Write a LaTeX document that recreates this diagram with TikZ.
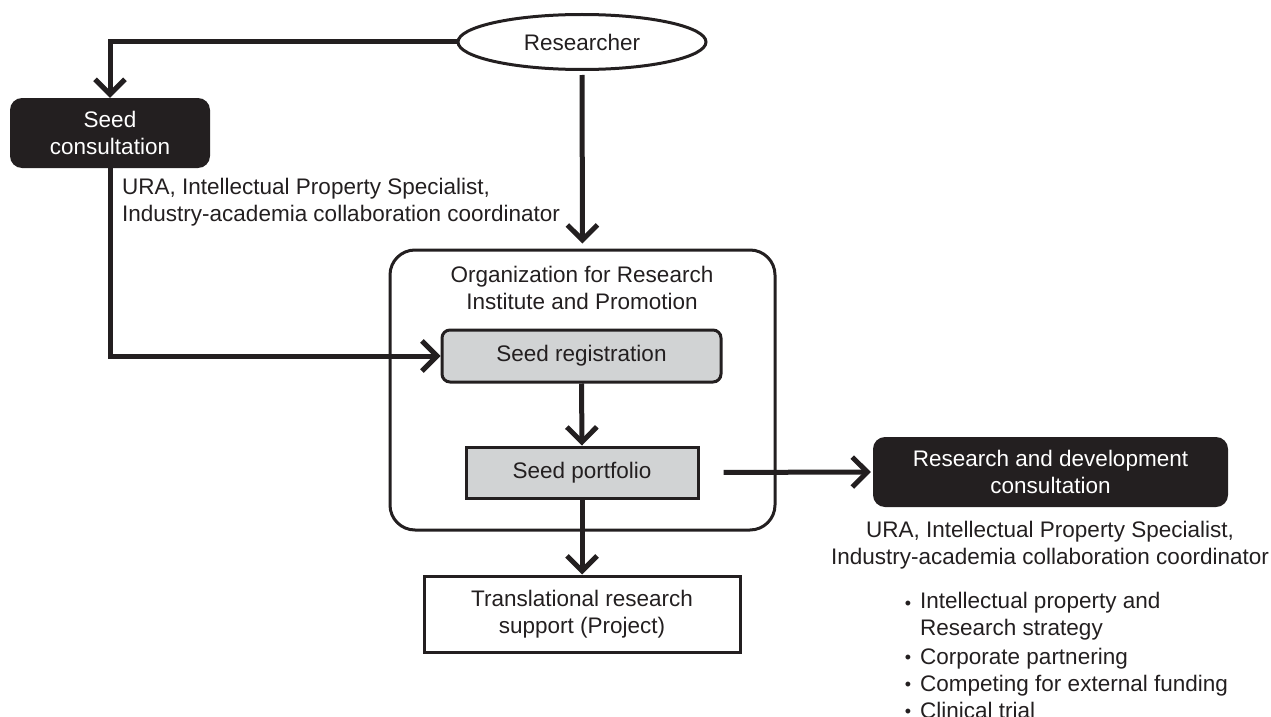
\documentclass[tikz,border=0pt]{standalone}
\usepackage{fontspec}
\setmainfont{Liberation Sans}
\usetikzlibrary{arrows.meta,shapes.geometric}
\definecolor{ink}{HTML}{231F20}
\definecolor{boxgray}{HTML}{D1D3D4}
\begin{document}
\begin{tikzpicture}[x=1pt,y=-1pt,
  txt/.style={font=\fontsize{22.5}{27}\selectfont, text=ink, align=center},
  flow/.style={draw=ink, line width=5pt, -{Straight Barb[length=15pt,width=30pt]}},
  darkbox/.style={txt, rectangle, rounded corners=12pt, fill=ink, text=white, inner sep=0pt},
  graybox/.style={txt, rectangle, draw=ink, fill=boxgray, line width=3pt, inner sep=0pt},
  plainbox/.style={txt, rectangle, draw=ink, line width=3pt, inner sep=0pt},
  lbl/.style={txt, inner sep=0pt},
  dot/.style={lbl, font=\fontsize{18}{27}\selectfont}
]
\useasboundingbox (0,0) rectangle (1271,717);

\node[txt, ellipse, draw=ink, line width=3pt, minimum width=248pt, minimum height=55pt, inner sep=0pt] (res) at (582,42) {Researcher};

\node[darkbox, minimum width=200pt, minimum height=70pt] (sc) at (110,133) {Seed\\consultation};

\node[lbl, anchor=west, align=left] (scl) at (122,202.5) {URA, Intellectual Property Specialist,\\Industry-academia collaboration coordinator};

\node[rectangle, rounded corners=25pt, draw=ink, line width=3pt, minimum width=385pt, minimum height=280pt, inner sep=0pt] (org) at (582.5,390) {};
\node[lbl] (orgt) at (582,287.5) {Organization for Research\\Institute and Promotion};

\node[graybox, rounded corners=8pt, minimum width=279pt, minimum height=52pt] (sr) at (581.5,356) {Seed registration};
\node[graybox, minimum width=232pt, minimum height=51pt] (sp) at (582,472.5) {Seed portfolio};

\node[darkbox, minimum width=355pt, minimum height=70pt] (rd) at (1050.5,472) {Research and development\\consultation};
\node[lbl] (rdl) at (1050,545) {URA, Intellectual Property Specialist,\\Industry-academia collaboration coordinator};

\node[plainbox, minimum width=316pt, minimum height=76pt] (tr) at (582,614) {Translational research\\support (Project)};

\node[dot, anchor=base] (d1) at (908,609) {•};
\node[lbl, anchor=west, align=left] (b1) at (920,616) {Intellectual property and\\Research strategy};
\node[dot, anchor=base] (d2) at (908,663) {•};
\node[lbl, anchor=base west] (b2) at (920,664) {Corporate partnering};
\node[dot, anchor=base] (d3) at (908,690) {•};
\node[lbl, anchor=base west] (b3) at (920,691) {Competing for external funding};
\node[dot, anchor=base] (d4) at (908,717) {•};
\node[lbl, anchor=base west] (b4) at (920,718) {Clinical trial};

\draw[flow] (res.west) -| (sc.north);
\draw[flow] (sc.south) |- (sr.west);
\draw[flow, shorten <=4pt, shorten >=5pt] (res.south) -- (org.north);
\draw[flow] (sr.south) -- (sp.north);
\draw[flow, shorten <=24pt, shorten >=2pt] (sp.east) -- (rd.west);
\draw[flow] (sp.south) -- (tr.north);
\end{tikzpicture}
\end{document}
